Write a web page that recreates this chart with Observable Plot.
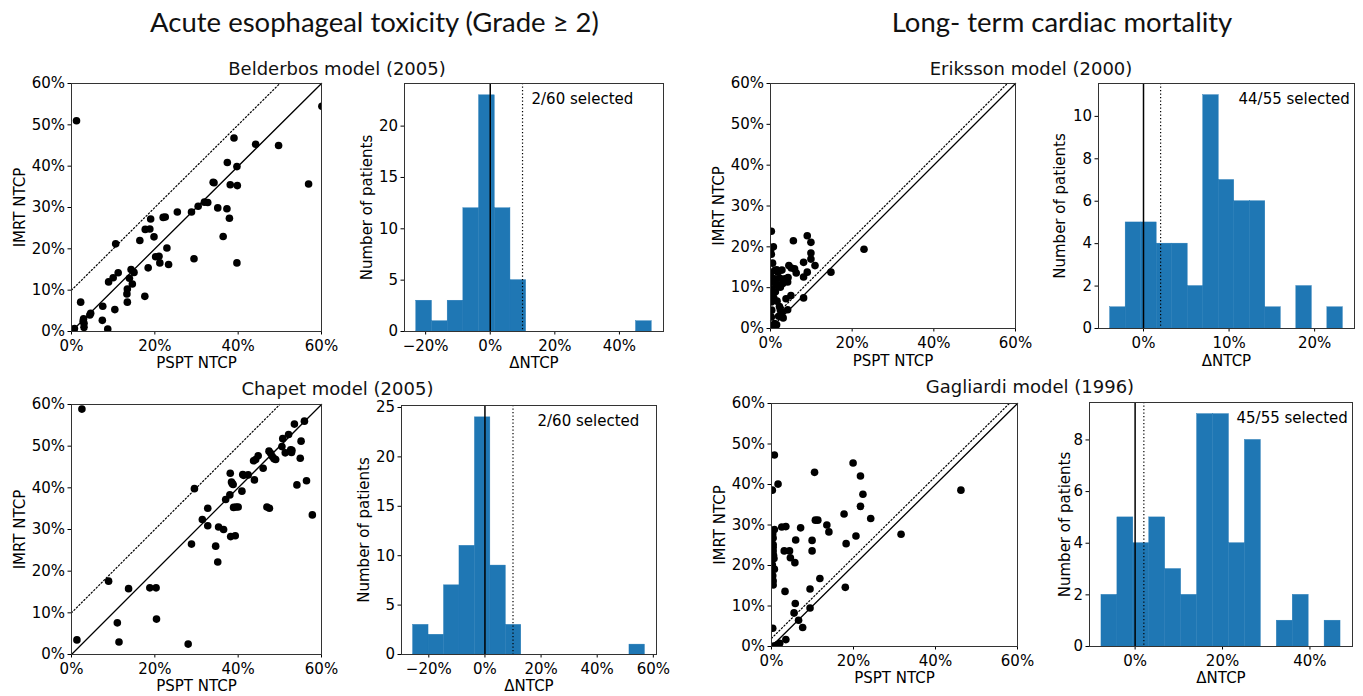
<!DOCTYPE html>
<html><head><meta charset="utf-8">
<script src="https://cdn.jsdelivr.net/npm/d3@7"></script>
<script src="https://cdn.jsdelivr.net/npm/@observablehq/plot@0.6"></script>
<style>
body{margin:0;background:#fff;}
#fig{position:relative;width:1363px;height:696px;overflow:hidden;background:#fff;}
#fig svg.pan{position:absolute;}
#overlay{position:absolute;left:0;top:0;pointer-events:none;}
</style></head><body><div id="fig"></div>
<script>
// ---------------- data ----------------
const mainTitles = ["Acute esophageal toxicity (Grade \u2265 2)", "Long- term cardiac mortality"];
const modelNames = ["Belderbos model (2005)", "Chapet model (2005)", "Eriksson model (2000)", "Gagliardi model (1996)"];
const selectedLabels = ["2/60 selected", "2/60 selected", "44/55 selected", "45/55 selected"];
const thresholds = [10, 10, 2, 2];

const scatterTicksX = [0, 20, 40, 60];
const scatterTicksY = [0, 10, 20, 30, 40, 50, 60];

const belderbosPSPT = [1.2,0.7,2.2,2.9,3.0,3.0,4.4,4.6,7.5,7.4,8.7,8.9,10.0,10.6,11.2,10.4,13.3,13.4,13.4,13.9,14.3,14.6,15.0,16.4,17.6,17.7,18.4,18.8,19.0,19.8,20.2,21.0,21.2,22.0,22.5,22.9,23.3,25.4,28.8,29.4,30.4,31.9,32.7,34.2,35.1,36.4,37.3,37.4,37.9,38.1,39.0,39.7,39.8,39.7,44.2,49.7,56.9,60.1,2.8,34.0];
const belderbosIMRT = [51.0,0.7,7.1,3.1,2.0,1.0,4.0,4.4,6.1,2.7,0.6,12.0,13.0,21.2,14.2,5.3,9.1,10.3,7.1,12.9,15.0,11.5,14.3,22.0,8.5,24.7,15.4,24.8,27.2,22.9,18.1,18.2,16.6,27.6,27.7,20.2,16.2,28.9,28.9,17.6,30.3,31.3,31.2,36.0,29.9,23.0,29.7,40.9,27.4,35.5,46.8,39.9,35.3,16.6,45.3,45.0,35.7,54.5,2.5,36.1];

const chapetPSPT = [2.5,1.3,8.9,11.0,11.4,13.7,18.8,20.3,20.4,28.0,28.8,29.5,31.4,32.7,32.7,34.6,35.1,35.3,36.5,37.0,38.0,38.1,38.4,38.8,38.2,39.3,38.9,40.0,40.9,41.1,42.4,43.7,43.9,44.8,46.0,46.9,47.5,47.4,48.2,49.0,50.5,50.7,51.3,52.1,52.6,52.8,53.5,54.1,54.9,55.1,55.9,56.4,57.8,38.6,47.8,52.9,39.5,44.2,48.6,41.3];
const chapetIMRT = [58.9,3.5,17.6,7.6,3.0,15.8,16.0,16.0,8.5,2.5,26.5,39.8,32.4,35.1,30.9,26.0,22.2,30.6,30.0,37.2,38.3,43.5,41.4,40.8,28.3,28.5,35.3,35.4,39.2,43.2,43.1,46.5,41.9,47.7,44.7,35.4,35.1,48.8,47.5,46.8,49.9,51.8,48.4,52.8,49.1,48.5,55.3,40.7,47.1,51.2,56.0,41.7,33.5,41.0,48.3,49.0,35.4,46.8,47.0,43.0];

const erikssonPSPT = [0.2,0.0,0.7,0.2,1.0,1.5,0.0,0.2,0.3,0.1,0.2,0.2,1.0,1.4,1.9,2.4,1.6,2.3,2.8,2.2,2.4,2.7,3.1,1.0,1.5,0.4,3.8,4.2,4.3,4.2,4.5,5.1,5.0,5.6,5.9,6.3,8.1,8.1,8.1,9.0,9.0,9.9,9.9,9.9,10.9,14.8,22.9,0.5,1.2,3.0,2.0,0.3,1.8,3.5,0.8];
const erikssonIMRT = [23.8,19.1,20.0,18.2,14.2,14.4,13.0,11.4,9.7,8.1,6.5,2.8,12.2,10.9,10.5,10.1,6.7,12.3,14.3,5.4,4.6,3.9,2.6,1.2,0.9,0.6,7.3,4.6,12.5,11.4,15.4,14.8,8.1,21.5,14.6,13.6,16.2,7.5,12.6,22.7,13.8,21.1,18.5,17.0,15.4,13.8,19.4,16.0,9.0,11.0,3.0,4.5,13.8,12.2,7.5];

const gagliardiPSPT = [0.7,0.2,1.6,0.7,0.4,0.4,0.4,0.6,0.7,0.4,0.4,0.3,0.7,1.5,2.0,2.5,3.5,3.1,3.3,3.5,4.4,4.6,5.7,5.5,5.8,5.9,6.6,7.1,7.6,9.4,9.4,9.9,9.9,10.5,10.7,11.3,11.8,13.5,14.0,17.7,18.0,18.2,19.9,20.6,21.7,21.7,22.3,24.2,31.6,46.2,0.3,0.4,0.5,0.3,0.2];
const gagliardiIMRT = [47.3,38.6,40.1,28.9,26.8,25.2,23.6,21.7,19.1,16.2,15.2,4.5,0.2,0.5,0.8,29.5,29.6,23.6,13.6,1.7,23.6,21.9,20.7,8.3,10.6,26.3,6.5,29.3,4.7,14.2,9.5,26.2,23.6,43.0,31.2,31.2,16.8,30.0,28.3,32.7,14.6,25.4,45.3,27.3,42.1,34.6,37.6,31.6,27.7,38.6,27.8,24.5,22.5,17.5,20.2];

// histograms of ΔNTCP (IMRT − PSPT): 15 equal bins between lo and hi
const belderbosCounts = [3,1,3,12,23,12,5,0,0,0,0,0,0,0,1];
const belderbosRange = [-22.9, 50.0];
const chapetCounts = [3,2,7,11,24,9,3,0,0,0,0,0,0,0,1];
const chapetRange = [-25.6, 57.0];
const erikssonCounts = [1,5,5,4,4,2,11,7,6,6,1,0,2,0,1];
const erikssonRange = [-3.9, 23.3];
const gagliardiCounts = [2,5,4,5,3,2,9,9,4,8,0,1,2,0,1];
const gagliardiRange = [-7.7, 47.0];

const histTicksX = [[-20, 0, 20, 40], [-20, 0, 20, 40, 60], [0, 10, 20], [0, 20, 40]];
const histTicksY = [[0, 5, 10, 15, 20], [0, 5, 10, 15, 20, 25], [0, 2, 4, 6, 8, 10], [0, 2, 4, 6, 8]];

// ---------------- layout ----------------
const fig = document.getElementById("fig");
const ML = 62, MR = 14, MT = 12, MB = 46;
const pct = d => (d < 0 ? "\u2212" : "") + Math.abs(d) + "%";
const baseStyle = {background: "transparent", fontFamily: "DejaVu Sans", fontSize: "15px", color: "#000", overflow: "visible"};
const BLUE = "#1f77b4";

function place(svg, f) {
  svg.classList.add("pan");
  svg.style.left = (f.L - ML) + "px";
  svg.style.top = (f.T - MT) + "px";
  fig.appendChild(svg);
}

function scatter(f, pspt, imrt, thr, labDy) {
  const pts = pspt.map((x, i) => ({x, y: imrt[i]}));
  const lo = scatterTicksX[0], hi = scatterTicksX[scatterTicksX.length - 1];
  const diag = [{x: lo, y: lo}, {x: hi, y: hi}];
  const thrLine = [{x: lo, y: lo + thr}, {x: hi - thr, y: hi}];
  const svg = Plot.plot({
    width: f.R - f.L + ML + MR, height: f.B - f.T + MT + MB,
    marginLeft: ML, marginRight: MR, marginTop: MT, marginBottom: MB,
    style: baseStyle,
    x: {domain: [lo, hi], ticks: scatterTicksX, tickFormat: pct, tickSize: 3.5, tickPadding: 5, label: null},
    y: {domain: [lo, hi], ticks: scatterTicksY, tickFormat: pct, tickSize: 3.5, tickPadding: 3, label: null},
    marks: [
      Plot.line(diag, {x: "x", y: "y", stroke: "#000", strokeWidth: 1.3}),
      Plot.line(thrLine, {x: "x", y: "y", stroke: "#000", strokeWidth: 1.2, strokeDasharray: "1.3,2.2"}),
      Plot.dot(pts, {x: "x", y: "y", r: 3.8, fill: "#000", stroke: "none", clip: true}),
      Plot.frame({stroke: "#333", strokeWidth: 1}),
      Plot.text(["PSPT NTCP"], {text: d => d, frameAnchor: "bottom", dy: labDy, lineAnchor: "middle", textAnchor: "middle", fontSize: 15}),
      Plot.text(["IMRT NTCP"], {text: d => d, frameAnchor: "left", dx: -51, rotate: -90, lineAnchor: "middle", textAnchor: "middle", fontSize: 15})
    ]
  });
  place(svg, f);
}

function hist(f, counts, range, thr, label, xt, yt, labDy, yLabDx, textDx) {
  const n = counts.length, w = (range[1] - range[0]) / n;
  const bins = counts.map((c, i) => ({x1: range[0] + i * w, x2: range[0] + (i + 1) * w, c}));
  const pad = 0.05 * (range[1] - range[0]);
  const ymax = d3.max(counts) * 1.05;
  const svg = Plot.plot({
    width: f.R - f.L + ML + MR, height: f.B - f.T + MT + MB,
    marginLeft: ML, marginRight: MR, marginTop: MT, marginBottom: MB,
    style: baseStyle,
    x: {domain: [range[0] - pad, range[1] + pad], ticks: xt, tickFormat: pct, tickSize: 3.5, tickPadding: 5, label: null},
    y: {domain: [0, ymax], ticks: yt, tickFormat: d => d, tickSize: 3.5, tickPadding: 3, label: null},
    marks: [
      Plot.rect(bins, {x1: "x1", x2: "x2", y1: 0, y2: "c", fill: BLUE, stroke: BLUE, strokeWidth: 0.4}),
      Plot.ruleX([0], {stroke: "#000", strokeWidth: 1.5}),
      Plot.ruleX([thr], {stroke: "#000", strokeWidth: 1.2, strokeDasharray: "1.3,2.2"}),
      Plot.frame({stroke: "#333", strokeWidth: 1}),
      Plot.text([label], {text: d => d, frameAnchor: "top-left", dx: textDx, dy: 16, lineAnchor: "middle", textAnchor: "start", fontSize: 15}),
      Plot.text(["\u0394NTCP"], {text: d => d, frameAnchor: "bottom", dy: labDy, lineAnchor: "middle", textAnchor: "middle", fontSize: 15}),
      Plot.text(["Number of patients"], {text: d => d, frameAnchor: "left", dx: yLabDx, rotate: -90, lineAnchor: "middle", textAnchor: "middle", fontSize: 15})
    ]
  });
  place(svg, f);
}

const F = {
  p1: {L: 71, R: 321, T: 83, B: 331},
  p2: {L: 404, R: 663, T: 83, B: 331},
  p3: {L: 71, R: 321, T: 404, B: 654},
  p4: {L: 401, R: 656, T: 405, B: 654},
  p5: {L: 770, R: 1015, T: 83, B: 328},
  p6: {L: 1098, R: 1354, T: 83, B: 328},
  p7: {L: 771, R: 1017, T: 403, B: 646},
  p8: {L: 1089, R: 1352, T: 402, B: 646}
};

scatter(F.p1, belderbosPSPT, belderbosIMRT, thresholds[0], 32);
hist(F.p2, belderbosCounts, belderbosRange, thresholds[0], selectedLabels[0], histTicksX[0], histTicksY[0], 32, -37, 127);
scatter(F.p3, chapetPSPT, chapetIMRT, thresholds[1], 32);
hist(F.p4, chapetCounts, chapetRange, thresholds[1], selectedLabels[1], histTicksX[1], histTicksY[1], 32, -37, 136);
scatter(F.p5, erikssonPSPT, erikssonIMRT, thresholds[2], 33);
hist(F.p6, erikssonCounts, erikssonRange, thresholds[2], selectedLabels[2], histTicksX[2], histTicksY[2], 33, -38, 140);
scatter(F.p7, gagliardiPSPT, gagliardiIMRT, thresholds[3], 32);
hist(F.p8, gagliardiCounts, gagliardiRange, thresholds[3], selectedLabels[3], histTicksX[3], histTicksY[3], 32, -24, 147);

// titles
const ov = d3.select(fig).append("svg").attr("id", "overlay").attr("width", 1363).attr("height", 696);
const mainPos = [{x: 374.5, y: 32}, {x: 1062, y: 32}];
ov.selectAll("text.main").data(mainTitles).join("text").attr("class", "main")
  .attr("x", (d, i) => mainPos[i].x).attr("y", (d, i) => mainPos[i].y)
  .attr("text-anchor", "middle").attr("font-family", "Lato, 'Open Sans', sans-serif").attr("font-size", 27.5).attr("fill", "#111").text(d => d);
const subPos = [{x: 337, y: 75}, {x: 337.5, y: 395}, {x: 1031, y: 75}, {x: 1030, y: 393}];
ov.selectAll("text.sub").data(modelNames).join("text").attr("class", "sub")
  .attr("x", (d, i) => subPos[i].x).attr("y", (d, i) => subPos[i].y)
  .attr("text-anchor", "middle").attr("font-family", "DejaVu Sans").attr("font-size", 18).attr("fill", "#111").text(d => d);
</script>
</body></html>
